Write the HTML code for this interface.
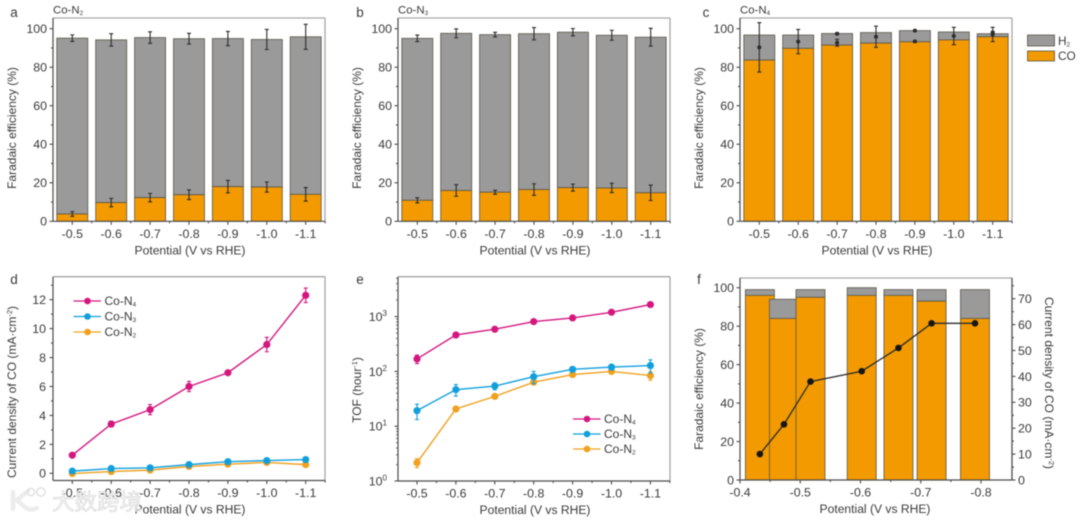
<!DOCTYPE html>
<html lang="en">
<head>
<meta charset="utf-8">
<title>Co-Nx electrocatalyst performance</title>
<style>
html,body{margin:0;padding:0;background:#fff;width:1080px;height:520px;overflow:hidden}
svg{display:block;filter:blur(.65px)}
text{font-family:"Liberation Sans","Noto Sans CJK SC",sans-serif;fill:#3a3a3a}
</style>
</head>
<body>
<svg id="figure" xmlns="http://www.w3.org/2000/svg" width="1080" height="520" viewBox="0 0 1080 520"></svg>
<script>
// ---- shared categories and tick labels ----
const potentials = ['-0.5', '-0.6', '-0.7', '-0.8', '-0.9', '-1.0', '-1.1'];
const feTicks = [0, 20, 40, 60, 80, 100];
const densityTicks = [0, 2, 4, 6, 8, 10, 12];
const tofExponents = [0, 1, 2, 3];
const fPotentialTicks = [-0.4, -0.5, -0.6, -0.7, -0.8];
const fRightTicks = [0, 10, 20, 30, 40, 50, 60, 70];

// ---- panel a: Co-N2 ----
const aTotal = [95.1, 94.2, 95.4, 94.8, 94.9, 94.4, 95.8];
const aCO = [3.8, 9.7, 12.3, 13.8, 18, 17.8, 14];
const aTotalErr = [1.7, 3.2, 3, 2.8, 3.7, 5.2, 6.5];
const aCOErr = [1.2, 2.2, 2.2, 2.5, 3.2, 2.6, 3.5];

// ---- panel b: Co-N3 ----
const bTotal = [95, 97.6, 96.9, 97.4, 98.2, 96.6, 95.6];
const bCO = [10.9, 16, 15.1, 16.5, 17.5, 17.3, 14.8];
const bTotalErr = [1.7, 2.3, 1.2, 3.2, 1.9, 2.6, 4.6];
const bCOErr = [1.3, 3, 1, 3, 1.8, 2.4, 4];

// ---- panel c: Co-N4 ----
const cTotal = [96.7, 96.7, 97.5, 98, 99, 98.3, 97.4];
const cCO = [83.7, 89.8, 91.5, 92.5, 93.2, 94.2, 95.8];
const cUpperMid = [null, null, 97.4, null, 99, null, 98];
const cUpperErr = [0, 0, 0.5, 0, 0.3, 0, 0.5];
const cLowerMid = [90.3, 93.3, 92.7, 95.8, 93.4, 96.2, 97];
const cLowerErr = [12.8, 6.3, 1.8, 5.5, 0.4, 4.5, 3.7];

// ---- panel d: current density ----
const dN4 = [1.25, 3.4, 4.4, 6.0, 6.95, 8.9, 12.3];
const dN4Err = [0.15, 0.2, 0.35, 0.35, 0.15, 0.5, 0.5];
const dN3 = [0.15, 0.33, 0.38, 0.6, 0.8, 0.88, 0.95];
const dN3Err = [0.1, 0.1, 0.1, 0.1, 0.1, 0.1, 0.15];
const dN2 = [-0.02, 0.12, 0.22, 0.47, 0.63, 0.75, 0.6];
const dN2Err = [0.05, 0.05, 0.05, 0.08, 0.08, 0.08, 0.1];

// ---- panel e: turnover frequency ----
const eN4 = [169, 463, 588, 810, 947, 1200, 1660];
const eN4Err = [30, 50, 60, 60, 50, 80, 100];
const eN3 = [19.2, 46.5, 54, 80, 109, 120, 128];
const eN3Err = [6, 11, 8, 20, 12, 14, 35];
const eN2 = [2.16, 20.6, 35, 63.5, 87.5, 100, 84];
const eN2Err = [0.4, 2, 3, 6, 5, 6, 15];

// ---- panel f: flow cell ----
const fPotential = [-0.433, -0.473, -0.517, -0.602, -0.663, -0.718, -0.79];
const fTotal = [99, 94, 99, 100, 99, 99, 99];
const fCO = [96, 84, 95, 96, 96, 93, 84];
const fDensity = [10, 21.5, 38, 42, 51, 60.5, 60.5];

const ORANGE = '#f29a00', GRAY = '#9a9a9a', EDGE = '#5a5549', AXIS = '#4c4c4c', FRAME = '#a6a6a6';
const MAGENTA = '#d4177f', BLUE = '#12a0dc', AMBER = '#f0a11e';
const svg = document.getElementById('figure');
const NS = 'http://www.w3.org/2000/svg';

function make(tag, attrs, parent, content) {
  const node = document.createElementNS(NS, tag);
  for (const k in attrs) node.setAttribute(k, attrs[k]);
  if (content !== undefined) node.textContent = content;
  parent.appendChild(node);
  return node;
}

function panelGroup(name) {
  const g = make('g', {}, svg);
  
  
  return g;
}

function drawText(g, name, x, y, str, size, anchor, rot) {
  const attrs = {x: x, y: y, 'font-size': size, 'text-anchor': anchor || 'middle'};
  if (rot) attrs.transform = 'rotate(' + rot + ' ' + x + ' ' + y + ')';
  const t = make('text', attrs, g, str);
  
  
  return t;
}

function subText(g, name, x, y, base, sub, size, anchor) {
  const t = drawText(g, name, x, y, base, size, anchor);
  make('tspan', {'font-size': size * 0.55, dy: 1.5}, t, sub);
  return t;
}

function tick(g, name, x1, y1, x2, y2, w) {
  const l = make('line', {x1: x1, y1: y1, x2: x2, y2: y2, stroke: AXIS, 'stroke-width': w || 1.1}, g);
  
  
}

function frame(g, L, T, R, B, rightDark) {
  const top = make('line', {x1: L, y1: T, x2: R, y2: T, stroke: FRAME, 'stroke-width': 1.3}, g);
  
  
  const right = make('line', {x1: R, y1: T, x2: R, y2: B, stroke: rightDark ? AXIS : FRAME, 'stroke-width': 1.3}, g);
  
  
  const bottom = make('line', {x1: L, y1: B, x2: R, y2: B, stroke: AXIS, 'stroke-width': 1.2}, g);
  
  
  const left = make('line', {x1: L, y1: T, x2: L, y2: B, stroke: AXIS, 'stroke-width': 1.2}, g);
  
  
}

function categoryAxis(g, layout) {
  const xOf = layout.x;
  potentials.forEach(function (label, i) {
    tick(g, 'x-tick', xOf(i), layout.B, xOf(i), layout.B + 3.5);
    tick(g, 'x-minor-tick', xOf(i + 0.5), layout.B, xOf(i + 0.5), layout.B + 2);
    drawText(g, 'x-tick-label', xOf(i), layout.B + 16.5, label, 12.4);
  });
  drawText(g, 'x-axis-title', (layout.L + layout.R) / 2 + 1, layout.B + 33, 'Potential (V vs RHE)', 12.1);
}

function errorBar(g, name, x, yHi, yLo, color, dot, yMid) {
  const cap = 2;
  const s = make('path', {
    d: 'M' + x + ' ' + yHi + 'V' + yLo + 'M' + (x - cap) + ' ' + yHi + 'H' + (x + cap) + 'M' + (x - cap) + ' ' + yLo + 'H' + (x + cap),
    stroke: color, 'stroke-width': 1.1, fill: 'none'
  }, g);
  
  
  if (dot) {
    const c = make('circle', {cx: x, cy: yMid, r: 2, fill: color}, g);
    
    
  }
}

function stackedPanel(name, letter, letterX, titleBase, titleSub, left, total, co, upMid, upErr, lowMid, lowErr, dots) {
  const g = panelGroup(name);
  const layout = {
    L: left, R: left + 272, T: 18, B: 221.3,
    x: function (i) { return left + 19.3 + 38.9 * i; },
    y: function (v) { return 221.3 - v * 1.926; }
  };
  const barW = 31;
  potentials.forEach(function (p, i) {
    const x = layout.x(i) - barW / 2;
    const h2 = make('rect', {x: x, y: layout.y(total[i]), width: barW, height: layout.y(co[i]) - layout.y(total[i]), fill: GRAY, stroke: EDGE, 'stroke-width': 0.8}, g);
    
    
    const c = make('rect', {x: x, y: layout.y(co[i]), width: barW, height: layout.y(0) - layout.y(co[i]), fill: ORANGE, stroke: EDGE, 'stroke-width': 0.8}, g);
    
    
  });
  potentials.forEach(function (p, i) {
    const cx = layout.x(i);
    if (upMid[i] !== null && upErr[i] > 0) {
      errorBar(g, 'error-bar-upper', cx, layout.y(upMid[i] + upErr[i]), layout.y(upMid[i] - upErr[i]), '#2c2c2c', dots, layout.y(upMid[i]));
    }
    if (lowMid[i] !== null && lowErr[i] > 0) {
      errorBar(g, 'error-bar-lower', cx, layout.y(lowMid[i] + lowErr[i]), layout.y(lowMid[i] - lowErr[i]), '#2c2c2c', dots, layout.y(lowMid[i]));
    }
  });
  frame(g, layout.L, layout.T, layout.R, layout.B);
  categoryAxis(g, layout);
  feTicks.forEach(function (v) {
    tick(g, 'y-tick', left - 3.5, layout.y(v), left, layout.y(v));
    drawText(g, 'y-tick-label', left - 6, layout.y(v) + 4.4, String(v), 12.4, 'end');
    if (v < 100) tick(g, 'y-minor-tick', left - 2, layout.y(v + 10), left, layout.y(v + 10));
  });
  drawText(g, 'y-axis-title', left - 37, 128, 'Faradaic efficiency (%)', 12, 'middle', -90);
  drawText(g, 'panel-letter', letterX, 17, letter, 13.5);
  subText(g, 'panel-title', left, 13.5, titleBase, titleSub, 11.4, 'start');
  return g;
}

function series(g, name, values, errs, xOf, yOf, color) {
  const pts = values.map(function (v, i) { return xOf(i) + ',' + yOf(v); }).join(' ');
  const line = make('polyline', {points: pts, fill: 'none', stroke: color, 'stroke-width': 1.4}, g);
  
  
  values.forEach(function (v, i) {
    errorBar(g, name + '-error-bar', xOf(i), yOf(v + errs[i]), yOf(Math.max(v - errs[i], 1e-3 + (v < 0 ? v - errs[i] : 0))), color, false, 0);
    const pt = make('circle', {cx: xOf(i), cy: yOf(v), r: 3.6, fill: color}, g);
    
    
  });
}

function lineLegend(g, name, x, y, color, base, sub) {
  const l = make('line', {x1: x, y1: y, x2: x + 27.5, y2: y, stroke: color, 'stroke-width': 1.3}, g);
  
  
  const c = make('circle', {cx: x + 14, cy: y, r: 3.3, fill: color}, g);
  
  
  subText(g, name + '-label', x + 31, y + 4, base, sub, 12, 'start');
}

// ---- panels a, b, c ----
stackedPanel('panel-a', 'a', 14, 'Co-N', '2', 53, aTotal, aCO, aTotal, aTotalErr, aCO, aCOErr, false);
stackedPanel('panel-b', 'b', 360, 'Co-N', '3', 398, bTotal, bCO, bTotal, bTotalErr, bCO, bCOErr, false);
const panelC = stackedPanel('panel-c', 'c', 706, 'Co-N', '4', 740, cTotal, cCO, cUpperMid, cUpperErr, cLowerMid, cLowerErr, true);

const h2Swatch = make('rect', {x: 1027.5, y: 35, width: 27, height: 11, fill: GRAY, stroke: EDGE, 'stroke-width': 0.8}, panelC);


const coSwatch = make('rect', {x: 1027.5, y: 51, width: 27, height: 10, fill: ORANGE, stroke: EDGE, 'stroke-width': 0.8}, panelC);


subText(panelC, 'legend-h2-label', 1058, 45, 'H', '2', 11.8, 'start');
drawText(panelC, 'legend-co-label', 1058, 60, 'CO', 11.8, 'start');

// ---- panel d ----
(function () {
  const g = panelGroup('panel-d');
  const layout = {
    L: 53, R: 325, T: 276.7, B: 480.5,
    x: function (i) { return 72.3 + 38.9 * i; },
    y: function (v) { return 473.3 - v * 14.47; }
  };
  frame(g, layout.L, layout.T, layout.R, layout.B);
  categoryAxis(g, layout);
  densityTicks.forEach(function (v) {
    tick(g, 'y-tick', 49.5, layout.y(v), 53, layout.y(v));
    drawText(g, 'y-tick-label', 46, layout.y(v) + 4.4, String(v), 12.4, 'end');
    tick(g, 'y-minor-tick', 51, layout.y(v + 1), 53, layout.y(v + 1));
  });
  const title = drawText(g, 'y-axis-title', 16, 392, 'Current density of CO (mA·cm', 12, 'middle', -90);
  make('tspan', {'font-size': 7.5, dy: -4}, title, '-2');
  make('tspan', {dy: 4}, title, ')');
  drawText(g, 'panel-letter', 14, 284, 'd', 13.5);
  series(g, 'co-n2', dN2, dN2Err, layout.x, layout.y, AMBER);
  series(g, 'co-n3', dN3, dN3Err, layout.x, layout.y, BLUE);
  series(g, 'co-n4', dN4, dN4Err, layout.x, layout.y, MAGENTA);
  lineLegend(g, 'legend-co-n4', 73.5, 301, MAGENTA, 'Co-N', '4');
  lineLegend(g, 'legend-co-n3', 73.5, 316.5, BLUE, 'Co-N', '3');
  lineLegend(g, 'legend-co-n2', 73.5, 332, AMBER, 'Co-N', '2');
})();

// ---- panel e ----
(function () {
  const g = panelGroup('panel-e');
  const layout = {
    L: 398, R: 670, T: 276.7, B: 481,
    x: function (i) { return 417 + 38.9 * i; },
    y: function (v) { return 481 - Math.log10(v) * 54.8; }
  };
  frame(g, layout.L, layout.T, layout.R, layout.B);
  categoryAxis(g, layout);
  tofExponents.forEach(function (exp) {
    const v = Math.pow(10, exp);
    tick(g, 'y-tick', 394.5, layout.y(v), 398, layout.y(v));
    const t = drawText(g, 'y-tick-label', 387, layout.y(v) + 4.4, '10', 12.4, 'end');
    make('tspan', {'font-size': 8, dy: -5}, t, String(exp));
    for (let m = 2; m <= 9; m++) {
      if (layout.y(m * v) > layout.T) tick(g, 'y-minor-tick', 396, layout.y(m * v), 398, layout.y(m * v), 0.8);
    }
  });
  const title = drawText(g, 'y-axis-title', 361, 390, 'TOF (hour', 12, 'middle', -90);
  make('tspan', {'font-size': 7.5, dy: -4}, title, '-1');
  make('tspan', {dy: 4}, title, ')');
  drawText(g, 'panel-letter', 360, 284, 'e', 13.5);
  series(g, 'co-n2', eN2, eN2Err, layout.x, layout.y, AMBER);
  series(g, 'co-n3', eN3, eN3Err, layout.x, layout.y, BLUE);
  series(g, 'co-n4', eN4, eN4Err, layout.x, layout.y, MAGENTA);
  lineLegend(g, 'legend-co-n4', 573, 419, MAGENTA, 'Co-N', '4');
  lineLegend(g, 'legend-co-n3', 573, 434, BLUE, 'Co-N', '3');
  lineLegend(g, 'legend-co-n2', 573, 449, AMBER, 'Co-N', '2');
})();

// ---- panel f ----
(function () {
  const g = panelGroup('panel-f');
  const L = 740, R = 1012, T = 278, B = 480;
  const xOf = function (p) { return 740 + (-0.4 - p) * 602.5; };
  const yLeft = function (v) { return 480 - v * 1.923; };
  const yRight = function (v) { return 480 - v * 2.59; };
  const barW = 29;
  fPotential.forEach(function (p, i) {
    const x = xOf(p) - barW / 2;
    const h2 = make('rect', {x: x, y: yLeft(fTotal[i]), width: barW, height: yLeft(fCO[i]) - yLeft(fTotal[i]), fill: GRAY, stroke: EDGE, 'stroke-width': 0.8}, g);
    
    
    const c = make('rect', {x: x, y: yLeft(fCO[i]), width: barW, height: yLeft(0) - yLeft(fCO[i]), fill: ORANGE, stroke: EDGE, 'stroke-width': 0.8}, g);
    
    
  });
  frame(g, L, T, R, B, true);
  feTicks.forEach(function (v) {
    tick(g, 'y-tick', L - 3.5, yLeft(v), L, yLeft(v));
    drawText(g, 'y-tick-label', L - 6, yLeft(v) + 4.4, String(v), 12.4, 'end');
    if (v < 100) tick(g, 'y-minor-tick', L - 2, yLeft(v + 10), L, yLeft(v + 10));
  });
  fRightTicks.forEach(function (v) {
    tick(g, 'right-y-tick', R, yRight(v), R + 3.5, yRight(v));
    drawText(g, 'right-y-tick-label', R + 6, yRight(v) + 4.4, String(v), 12.4, 'start');
    tick(g, 'right-y-minor-tick', R, yRight(v + 5), R + 2, yRight(v + 5));
  });
  fPotentialTicks.forEach(function (p) {
    tick(g, 'x-tick', xOf(p), B, xOf(p), B + 3.5);
    drawText(g, 'x-tick-label', xOf(p), B + 16.5, p.toFixed(1), 12.4);
    if (p > -0.8) tick(g, 'x-minor-tick', xOf(p - 0.05), B, xOf(p - 0.05), B + 2);
  });
  drawText(g, 'x-axis-title', 875, 513, 'Potential (V vs RHE)', 12.1);
  drawText(g, 'y-axis-title', 703, 389, 'Faradaic efficiency (%)', 12, 'middle', -90);
  const rt = drawText(g, 'right-y-axis-title', 1045, 383, 'Current density of CO (mA·cm', 12, 'middle', 90);
  make('tspan', {'font-size': 7.5, dy: -4}, rt, '-2');
  make('tspan', {dy: 4}, rt, ')');
  drawText(g, 'panel-letter', 699, 284, 'f', 13.5);
  const pts = fPotential.map(function (p, i) { return xOf(p) + ',' + yRight(fDensity[i]); }).join(' ');
  const line = make('polyline', {points: pts, fill: 'none', stroke: '#2c2c2c', 'stroke-width': 1.3}, g);
  
  
  fPotential.forEach(function (p, i) {
    const c = make('circle', {cx: xOf(p), cy: yRight(fDensity[i]), r: 3.3, fill: '#161616'}, g);
    
    
  });
})();

// ---- watermark ----
const wm = panelGroup('watermark');
const wmLogo = make('path', {d: 'M13 492V509M28 491L17 500L26 508Q32 511 37 508', fill: 'none', stroke: '#ececec', 'stroke-width': 4.5, 'stroke-linecap': 'round'}, wm);


const wmRing1 = make('circle', {cx: 31, cy: 492, r: 3.6, fill: 'none', stroke: '#e2e2e2', 'stroke-width': 1.6}, wm);


const wmRing2 = make('circle', {cx: 41, cy: 492, r: 4.2, fill: 'none', stroke: '#e2e2e2', 'stroke-width': 1.6}, wm);


const wmText = make('text', {x: 52, y: 510, 'font-size': 22.5, style: 'fill:#f6f6f6;stroke:#d2d2d2;stroke-width:.6;opacity:.93'}, wm, '大数跨境');


</script>
</body>
</html>
